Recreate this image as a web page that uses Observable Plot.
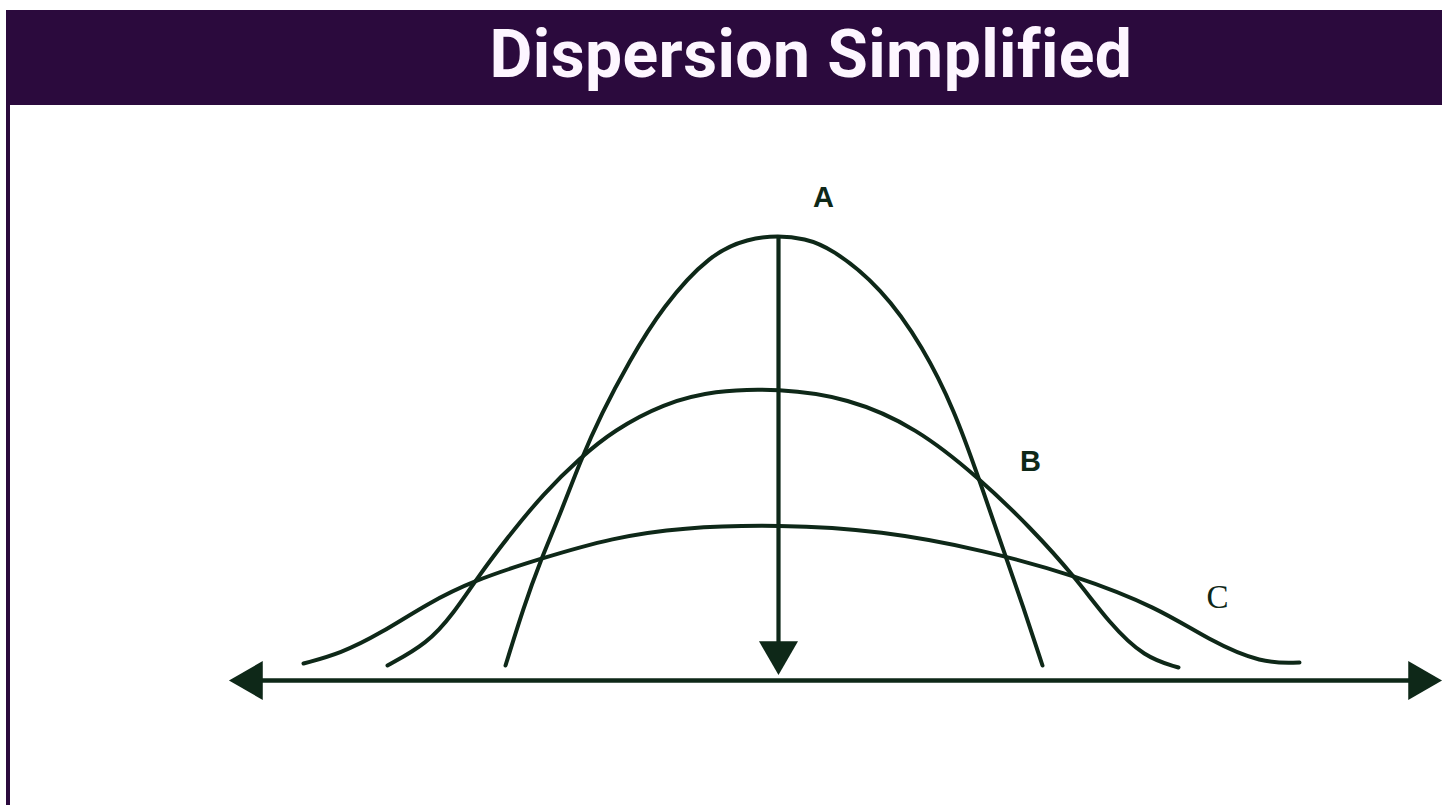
<!DOCTYPE html>
<html>
<head>
<meta charset="utf-8">
<script src="https://cdn.jsdelivr.net/npm/d3@7"></script>
<script src="https://cdn.jsdelivr.net/npm/@observablehq/plot@0.6"></script>
<style>
  html, body { margin: 0; padding: 0; background: #ffffff; width: 1442px; height: 805px; overflow: hidden; }
  #banner { position: absolute; left: 6px; top: 10px; width: 1436px; height: 95px; background: #2b0a3d; }
  #title { position: absolute; left: 180px; width: 1262px; top: 10px; height: 95px; line-height: 90px; text-align: center;
           color: #fdf6ff; font-family: Roboto, "Noto Sans", sans-serif; font-weight: 700; font-size: 66px; letter-spacing: 0.4px; }
  #border { position: absolute; left: 6px; top: 105px; width: 4px; height: 700px; background: #2b0a3d; }
  #chart { position: absolute; left: 0; top: 105px; }
</style>
</head>
<body>
<div id="banner"></div>
<div id="title">Dispersion Simplified</div>
<div id="border"></div>
<div id="chart"></div>
<script>
// Curve A (least dispersed)
const curveAX = [-2.73, -2.55, -2.38, -2.18, -1.98, -1.77, -1.50, -1.16, -0.68, -0.30, 0, 0.26, 0.52, 1.03, 1.45, 1.76, 2.00, 2.24, 2.45, 2.64];
const curveAY = [0.15, 0.73, 1.20, 1.67, 2.20, 2.67, 3.18, 3.74, 4.27, 4.42, 4.45, 4.42, 4.33, 3.93, 3.33, 2.70, 2.03, 1.33, 0.73, 0.15];
// Curve B
const curveBX = [-3.91, -3.51, -3.25, -3.01, -2.71, -2.35, -1.98, -1.65, -1.15, -0.65, 0, 0.69, 1.38, 2.00, 2.52, 2.97, 3.31, 3.66, 4.00];
const curveBY = [0.15, 0.37, 0.67, 1.03, 1.43, 1.87, 2.23, 2.50, 2.77, 2.90, 2.92, 2.83, 2.53, 2.03, 1.53, 1.03, 0.57, 0.23, 0.13];
// Curve C (most dispersed)
const curveCX = [-4.75, -4.38, -3.98, -3.51, -3.05, -2.38, -1.65, -0.98, 0, 1.03, 2.07, 2.97, 3.79, 4.31, 4.83, 5.21];
const curveCY = [0.17, 0.27, 0.47, 0.77, 1.00, 1.22, 1.43, 1.53, 1.56, 1.50, 1.30, 1.05, 0.73, 0.40, 0.17, 0.18];

// Horizontal axis extent (arrow tips) and central arrow
const axisX = [-5.48, 6.62];
const centerX = 0;
const centerTop = 4.45;
const centerTip = 0.07;

// Curve labels
const labelText = ["A", "B", "C"];
const labelX = [0.45, 2.52, 4.39];
const labelY = [4.83, 2.19, 0.83];

const ink = "#0e2818";
const toPoints = (xs, ys) => xs.map((x, i) => ({x, y: ys[i]}));
const curves = [toPoints(curveAX, curveAY), toPoints(curveBX, curveBY), toPoints(curveCX, curveCY)];
const labels = labelText.map((t, i) => ({t, x: labelX[i], y: labelY[i]}));

const chart = Plot.plot({
  width: 1442,
  height: 700,
  marginLeft: 0, marginRight: 0, marginTop: 0, marginBottom: 125,
  x: {domain: [-7.78, 6.64], axis: null},
  y: {domain: [0, 5.75], axis: null},
  style: {background: "transparent", overflow: "visible"},
  marks: [
    ...curves.map(c => Plot.line(c, {x: "x", y: "y", curve: "basis", stroke: ink, strokeWidth: 4, strokeLinecap: "round"})),
    Plot.ruleY([0], {x1: axisX[0] + 0.2, x2: axisX[1] - 0.2, stroke: ink, strokeWidth: 4.4}),
    Plot.ruleX([centerX], {y1: centerTop, y2: centerTip + 0.2, stroke: ink, strokeWidth: 4.2}),
    Plot.dot([{x: axisX[0], y: 0}], {x: "x", y: "y", dx: 21, symbol: "triangle", r: 14.5, fill: ink, stroke: "none", rotate: -90}),
    Plot.dot([{x: axisX[1], y: 0}], {x: "x", y: "y", dx: -21, symbol: "triangle", r: 14.5, fill: ink, stroke: "none", rotate: 90}),
    Plot.dot([{x: centerX, y: centerTip}], {x: "x", y: "y", dy: -21, symbol: "triangle", r: 14.5, fill: ink, stroke: "none", rotate: 180}),
    Plot.text(labels.slice(0, 2), {x: "x", y: "y", text: "t", fill: ink, fontSize: 29, fontWeight: 700, fontFamily: "'Liberation Sans', Arial, sans-serif"}),
    Plot.text(labels.slice(2), {x: "x", y: "y", text: "t", fill: ink, fontSize: 33, fontFamily: "'Liberation Serif', serif"})
  ]
});
document.getElementById("chart").appendChild(chart);
</script>
</body>
</html>
